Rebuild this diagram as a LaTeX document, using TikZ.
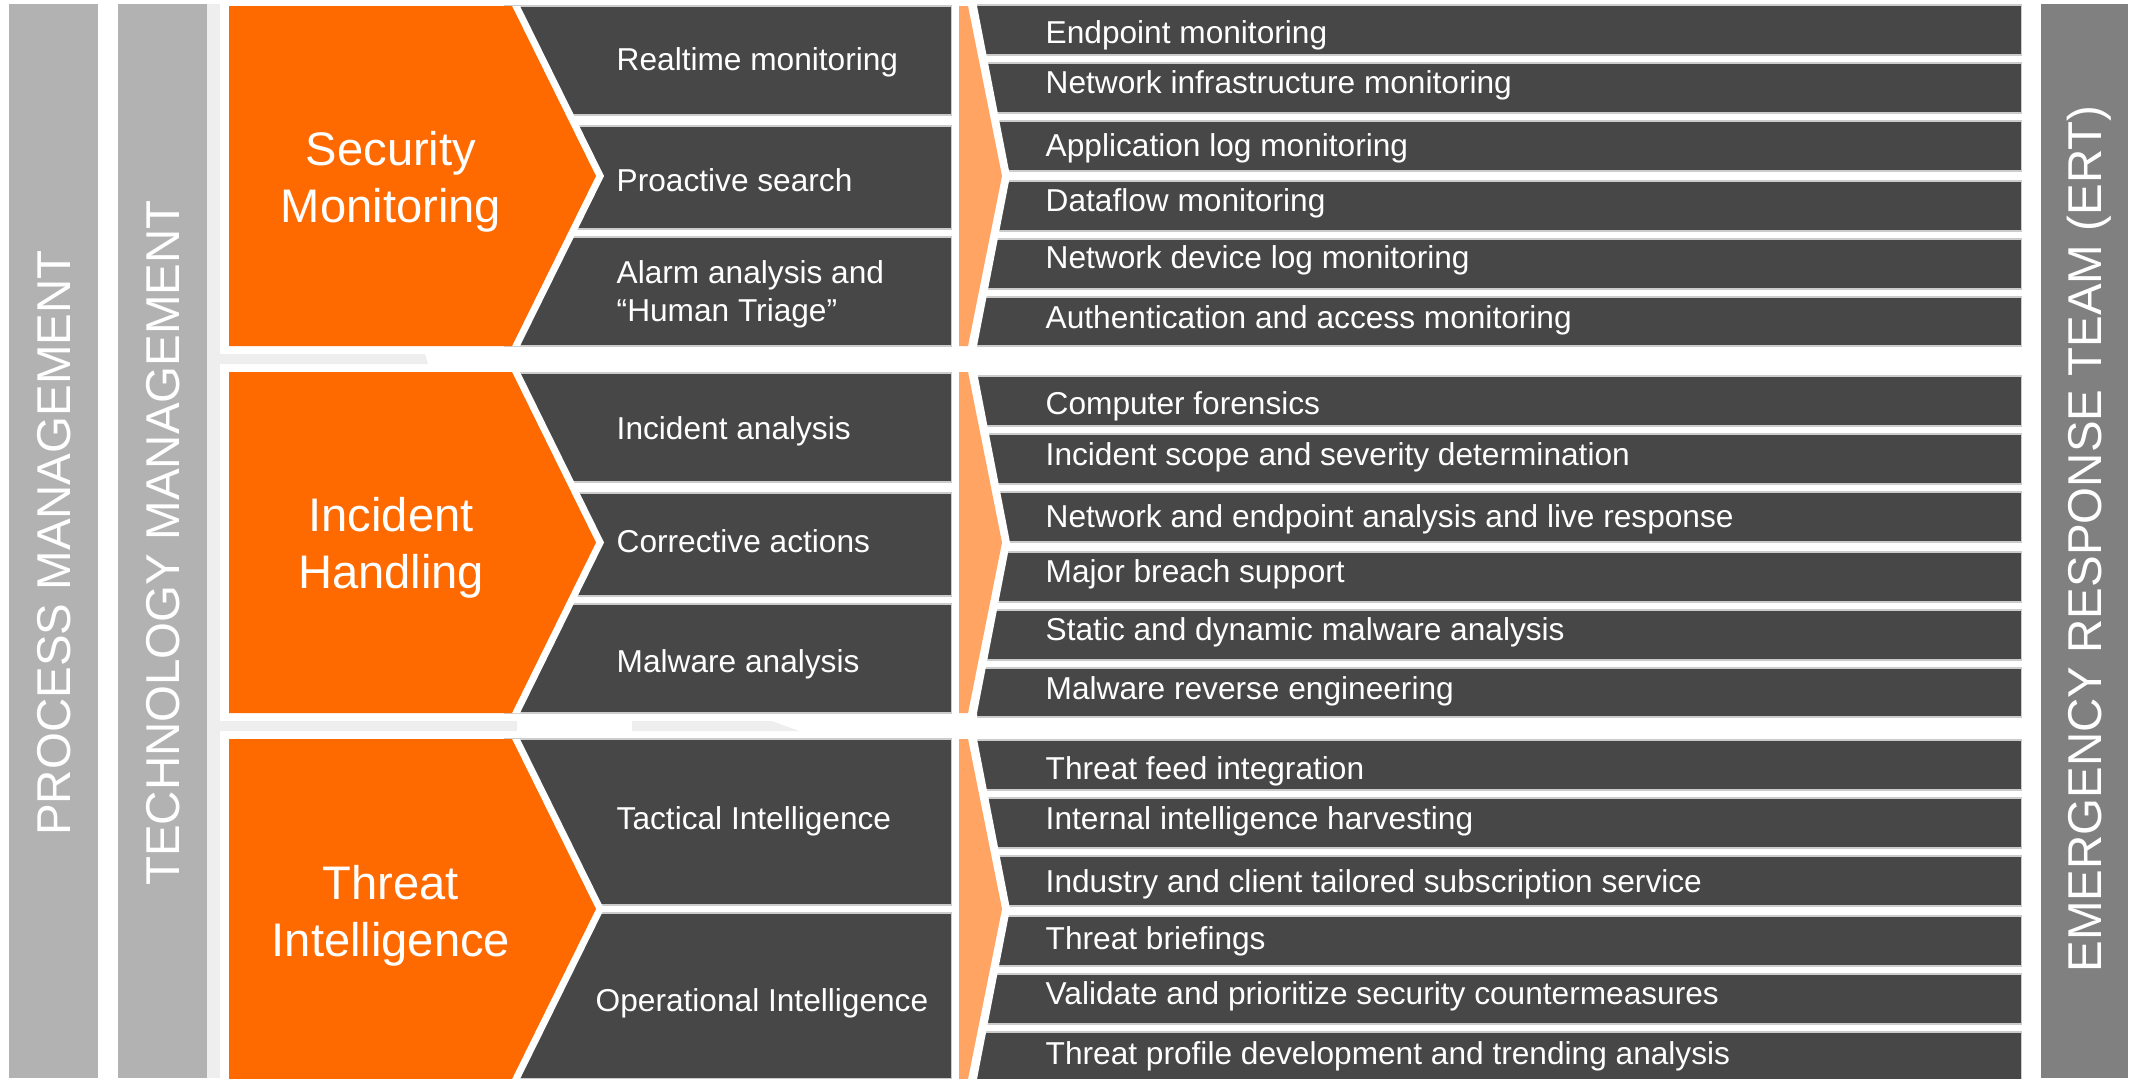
\documentclass[tikz,border=0pt]{standalone}
\usepackage{fontspec}
\setmainfont{Liberation Sans}
\definecolor{socorange}{HTML}{FF6A00}
\definecolor{soclight}{HTML}{FFA463}
\definecolor{socdark}{HTML}{474747}
\definecolor{socbar}{HTML}{B2B2B2}
\definecolor{ertbar}{HTML}{808080}
\definecolor{socshade}{HTML}{EEEEEE}

\begin{document}
\begin{tikzpicture}[x=0.01cm,y=-0.01cm,
    darkbox/.style={fill=socdark,draw=white!80!black,line width=0.3pt},
    mainlabel/.style={text=white,align=center,anchor=base,inner sep=0pt,
      font=\fontsize{13.4}{16.2}\selectfont},
    sublabel/.style={text=white,align=left,anchor=base west,inner sep=0pt,
      font=\fontsize{9}{10.8}\selectfont},
    sidelabel/.style={text=white,rotate=90,anchor=base,inner sep=0pt,
      font=\fontsize{13.5}{16}\selectfont}]
  \useasboundingbox (0,0) rectangle (2131,1078);

  % faint reflections behind the blocks
  \fill[socshade] (207,4) rectangle (220,1078);
  \fill[socshade] (220,354) -- (425,354) -- (428,364) -- (220,364) -- cycle;
  \fill[socshade] (220,721) -- (517,721) -- (517,731) -- (220,731) -- cycle;
  \fill[socshade] (632,721) -- (772,721) -- (799,731) -- (632,731) -- cycle;

  % side bars
  \fill[socbar] (9,4) rectangle (98,1078);
  \fill[socbar] (118,4) rectangle (207,1078);
  \fill[ertbar] (2041,4) rectangle (2128,1078);

  % middle column
  \foreach \a/\b in {6/115,126/229,237/346,373/482,493/596,604/713,739/905,913/1079}
    \path[darkbox] (505,\a) rectangle (952,\b);

  % blocks: chevrons and right column
  \foreach \T/\B/\R in {6/346/5,372/713/376,739/1079/740}{
    \pgfmathsetmacro\M{(\T+\B)/2}
    \foreach \a/\b in {0/50,58/108,116/166,176/226,234/284,292/341}
      \path[darkbox] (960,\R+\a) rectangle (2021,\R+\b);
    \fill[white] (952,\T-8) -- (977,\T-8) -- (977,\T) -- (1010,\M)
      -- (977,\B) -- (977,\B+8) -- (952,\B+8) -- cycle;
    \fill[soclight] (959,\T) -- (968,\T) -- (1002,\M) -- (968,\B) -- (959,\B) -- cycle;
    \fill[white] (495,\T) -- (520,\T) -- (604,\M) -- (520,\B) -- (495,\B) -- cycle;
    \fill[socorange] (229,\T) -- (512,\T) -- (596,\M) -- (512,\B) -- (229,\B) -- cycle;
  }

  \node[sidelabel] (process) at (70.5,543) {PROCESS MANAGEMENT};
  \node[sidelabel] (technology) at (179.5,543) {TECHNOLOGY MANAGEMENT};
  \node[sidelabel] (ert) at (2101.5,539) {EMERGENCY RESPONSE TEAM (ERT)};

  \node[mainlabel] (monitoring) at (391,222) {Security\\Monitoring};
  \node[mainlabel] (handling) at (391,588) {Incident\\Handling};
  \node[mainlabel] (intel) at (391,956) {Threat\\Intelligence};

  \node[sublabel] (realtime) at (616,70) {Realtime monitoring};
  \node[sublabel] (proactive) at (616,191.5) {Proactive search};
  \node[sublabel] (triage) at (616,321.5) {Alarm analysis and\\“Human Triage”};
  \node[sublabel] (analysis) at (616,439.5) {Incident analysis};
  \node[sublabel] (corrective) at (616,552.5) {Corrective actions};
  \node[sublabel] (malware) at (616,672.5) {Malware analysis};
  \node[sublabel] (tactical) at (616,829.5) {Tactical Intelligence};
  \node[sublabel] (operational) at (595,1011.5) {Operational Intelligence};

  \node[sublabel] (endpoint) at (1045,43) {Endpoint monitoring};
  \node[sublabel] (netinfra) at (1045,93.5) {Network infrastructure monitoring};
  \node[sublabel] (applog) at (1045,156.5) {Application log monitoring};
  \node[sublabel] (dataflow) at (1045,211.5) {Dataflow monitoring};
  \node[sublabel] (devlog) at (1045,268.5) {Network device log monitoring};
  \node[sublabel] (access) at (1045,328.5) {Authentication and access monitoring};
  \node[sublabel] (forensics) at (1045,414) {Computer forensics};
  \node[sublabel] (scope) at (1045,465) {Incident scope and severity determination};
  \node[sublabel] (liveresp) at (1045,527.5) {Network and endpoint analysis and live response};
  \node[sublabel] (breach) at (1045,582.5) {Major breach support};
  \node[sublabel] (dynamic) at (1045,640.5) {Static and dynamic malware analysis};
  \node[sublabel] (reverse) at (1045,699) {Malware reverse engineering};
  \node[sublabel] (feed) at (1045,779.5) {Threat feed integration};
  \node[sublabel] (harvest) at (1045,829) {Internal intelligence harvesting};
  \node[sublabel] (tailored) at (1045,892) {Industry and client tailored subscription service};
  \node[sublabel] (briefing) at (1045,949) {Threat briefings};
  \node[sublabel] (counter) at (1045,1004) {Validate and prioritize security countermeasures};
  \node[sublabel] (profile) at (1045,1064) {Threat profile development and trending analysis};
\end{tikzpicture}
\end{document}
